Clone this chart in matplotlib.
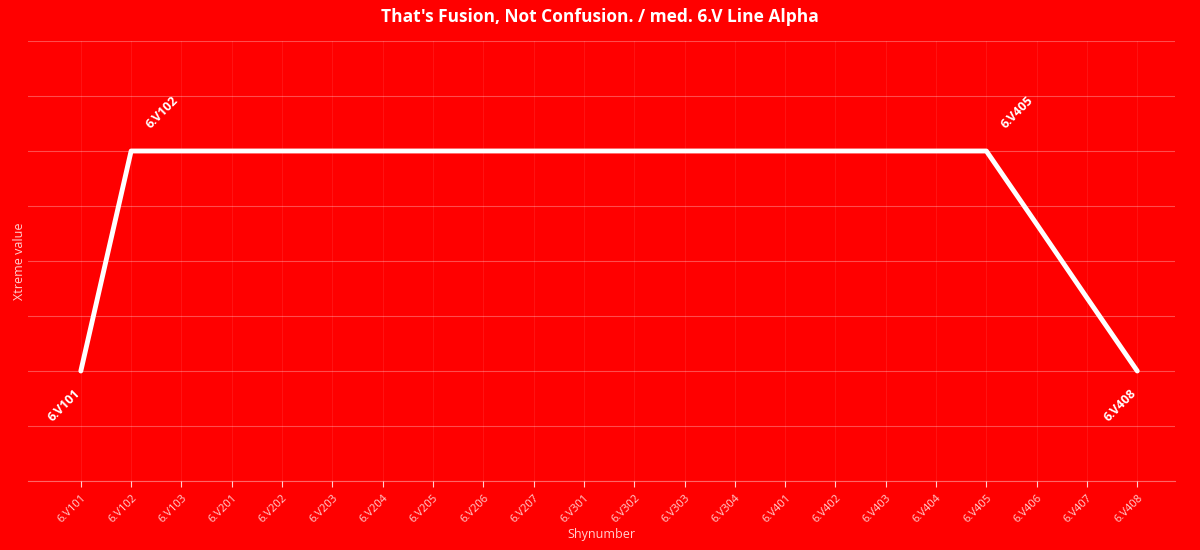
import matplotlib.pyplot as plt

# data
categories = ['6.V101', '6.V102', '6.V103', '6.V201', '6.V202', '6.V203', '6.V204',
              '6.V205', '6.V206', '6.V207', '6.V301', '6.V302', '6.V303', '6.V304',
              '6.V401', '6.V402', '6.V403', '6.V404', '6.V405', '6.V406', '6.V407',
              '6.V408']
values = [2, 6, 6, 6, 6, 6, 6, 6, 6, 6, 6, 6, 6, 6, 6, 6, 6, 6, 6, 4.67, 3.33, 2]
labelled = {'6.V101': 'below', '6.V102': 'above', '6.V405': 'above', '6.V408': 'below'}

plt.rcParams['font.family'] = ['Open Sans', 'DejaVu Sans']
bg = '#ff0000'

fig = plt.figure(figsize=(12, 5.5), dpi=100, facecolor=bg)
ax = fig.add_axes([28 / 1200, 1 - 481 / 550, (1175 - 28) / 1200, 440 / 550])
ax.set_facecolor(bg)

x = list(range(len(categories)))
ax.plot(x, values, color='white', linewidth=3.5, solid_capstyle='round', zorder=3)

for i, c in enumerate(categories):
    if c in labelled:
        if labelled[c] == 'above':
            off = (22, 28)
        else:
            off = (-12, -25)
        ax.annotate(c, (i, values[i]), xytext=off, textcoords='offset points',
                    rotation=45, ha='center', va='center', color='white',
                    fontsize=9, fontweight='bold')

ax.set_xlim(-1.05, 21.75)
ax.set_ylim(0, 8)
ax.set_xticks(x)
ax.set_xticklabels(categories, rotation=45, ha='right', rotation_mode='anchor',
                   fontsize=8, color='#ffd0d0')
ax.set_yticks(range(0, 9))
ax.set_yticklabels([])
ax.tick_params(axis='y', length=0)
ax.tick_params(axis='x', length=4, color='#ffd0d0', pad=4)

ax.grid(axis='y', color='white', alpha=0.3, linewidth=0.8)
ax.grid(axis='x', color='white', alpha=0.08, linewidth=0.8)
for s in ax.spines.values():
    s.set_visible(False)
ax.spines['bottom'].set_visible(True)
ax.spines['bottom'].set_color((1, 1, 1, 0.4))

ax.set_xlabel('Shynumber', color='#ffd0d0', fontsize=9, labelpad=2)
ax.set_ylabel('Xtreme value', color='#ffd0d0', fontsize=9, labelpad=-2)
fig.suptitle("That's Fusion, Not Confusion. / med. 6.V Line Alpha", color='white',
             fontsize=12.5, fontweight='bold', y=0.985)

fig.savefig('out.png', facecolor=bg)
